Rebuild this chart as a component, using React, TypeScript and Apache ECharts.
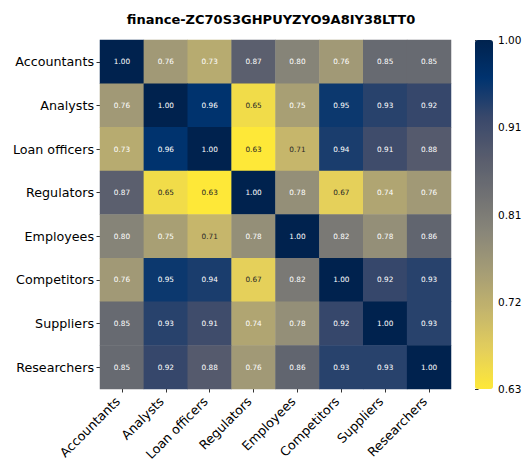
import React, { useEffect, useRef } from "react";
import * as echarts from "echarts";

const title = "finance-ZC70S3GHPUYZYO9A8IY38LTT0";
const categories = [
  "Accountants",
  "Analysts",
  "Loan officers",
  "Regulators",
  "Employees",
  "Competitors",
  "Suppliers",
  "Researchers",
];
const rowAccountants = [1.0, 0.76, 0.73, 0.87, 0.8, 0.76, 0.85, 0.85];
const rowAnalysts = [0.76, 1.0, 0.96, 0.65, 0.75, 0.95, 0.93, 0.92];
const rowLoanOfficers = [0.73, 0.96, 1.0, 0.63, 0.71, 0.94, 0.91, 0.88];
const rowRegulators = [0.87, 0.65, 0.63, 1.0, 0.78, 0.67, 0.74, 0.76];
const rowEmployees = [0.8, 0.75, 0.71, 0.78, 1.0, 0.82, 0.78, 0.86];
const rowCompetitors = [0.76, 0.95, 0.94, 0.67, 0.82, 1.0, 0.92, 0.93];
const rowSuppliers = [0.85, 0.93, 0.91, 0.74, 0.78, 0.92, 1.0, 0.93];
const rowResearchers = [0.85, 0.92, 0.88, 0.76, 0.86, 0.93, 0.93, 1.0];
const matrix = [
  rowAccountants,
  rowAnalysts,
  rowLoanOfficers,
  rowRegulators,
  rowEmployees,
  rowCompetitors,
  rowSuppliers,
  rowResearchers,
];
const colorMin = 0.63;
const colorMax = 1.0;
const colorbarTicks = ["0.63", "0.72", "0.81", "0.91", "1.00"];

// cividis reversed (low -> high)
const cividisR = [
  "#fee838",
  "#e4cf5b",
  "#c4b56c",
  "#a69d75",
  "#8a8779",
  "#707173",
  "#575c6d",
  "#39486b",
  "#00336f",
  "#00224e",
];

const FONT = "DejaVu Sans";

export default function App() {
  const ref = useRef<HTMLDivElement>(null);
  useEffect(() => {
    if (!ref.current) return;
    const chart = echarts.init(ref.current, null, { renderer: "svg" });
    const data: any[] = [];
    matrix.forEach((row, r) => {
      row.forEach((v, c) => {
        data.push({
          value: [c, r, v],
          label: { color: v < 0.72 ? "#262626" : "#ffffff" },
        });
      });
    });
    chart.setOption({
      animation: false,
      backgroundColor: "#ffffff",
      textStyle: { fontFamily: FONT },
      graphic: [
        {
          type: "text",
          x: 271,
          y: 19,
          style: {
            text: title,
            fontFamily: FONT,
            fontWeight: "bold",
            fontSize: 13,
            fill: "#000",
            align: "center",
            verticalAlign: "middle",
          },
        },
      ],
      grid: [
        {
          left: 100,
          top: 40,
          width: 351,
          height: 349,
          containLabel: false,
          outerBoundsMode: "none",
        },
        {
          left: 475,
          top: 40,
          width: 18,
          height: 349,
          containLabel: false,
          outerBoundsMode: "none",
        },
      ],
      xAxis: [
        {
          type: "category",
          gridIndex: 0,
          data: categories,
          axisLine: { show: false },
          axisTick: {
            show: true,
            alignWithLabel: true,
            length: 3.5,
            lineStyle: { color: "#333" },
          },
          axisLabel: {
            interval: 0,
            rotate: 45,
            fontSize: 12.7,
            color: "#000",
            fontFamily: FONT,
            margin: 6,
            padding: [0, 6, 0, 0],
          },
          splitLine: { show: false },
        },
        {
          type: "value",
          gridIndex: 1,
          show: false,
          min: 0,
          max: 1,
        },
      ],
      yAxis: [
        {
          type: "category",
          gridIndex: 0,
          data: categories,
          inverse: true,
          axisLine: { show: false },
          axisTick: {
            show: true,
            alignWithLabel: true,
            length: 3.5,
            lineStyle: { color: "#333" },
          },
          axisLabel: {
            interval: 0,
            fontSize: 12.7,
            color: "#000",
            fontFamily: FONT,
            margin: 6,
          },
          splitLine: { show: false },
        },
        {
          type: "value",
          gridIndex: 1,
          position: "right",
          min: 0,
          max: colorbarTicks.length - 1,
          interval: 1,
          axisLine: { show: false },
          axisTick: {
            show: true,
            length: 3.5,
            lineStyle: { color: "#333" },
          },
          axisLabel: {
            fontSize: 10.5,
            color: "#000",
            fontFamily: FONT,
            margin: 5,
            formatter: (v: number) => colorbarTicks[Math.round(v)] ?? "",
          },
          splitLine: { show: false },
        },
      ],
      visualMap: {
        type: "continuous",
        seriesIndex: 0,
        min: colorMin,
        max: colorMax,
        calculable: false,
        orient: "vertical",
        left: 475,
        top: 40,
        padding: 0,
        itemWidth: 18,
        itemHeight: 349,
        text: ["", ""],
        showLabel: false,
        inRange: { color: cividisR },
      },
      series: [
        {
          type: "heatmap",
          xAxisIndex: 0,
          yAxisIndex: 0,
          data,
          itemStyle: { borderWidth: 0 },
          label: {
            show: true,
            fontSize: 7.3,
            fontFamily: FONT,
            formatter: (p: any) => Number(p.value[2]).toFixed(2),
          },
          emphasis: { disabled: true },
        },
        {
          type: "scatter",
          xAxisIndex: 1,
          yAxisIndex: 1,
          data: [],
        },
      ],
    });
    return () => chart.dispose();
  }, []);
  return (
    <div
      ref={ref}
      style={{ position: "fixed", left: 0, top: 0, width: 532, height: 459 }}
    />
  );
}
